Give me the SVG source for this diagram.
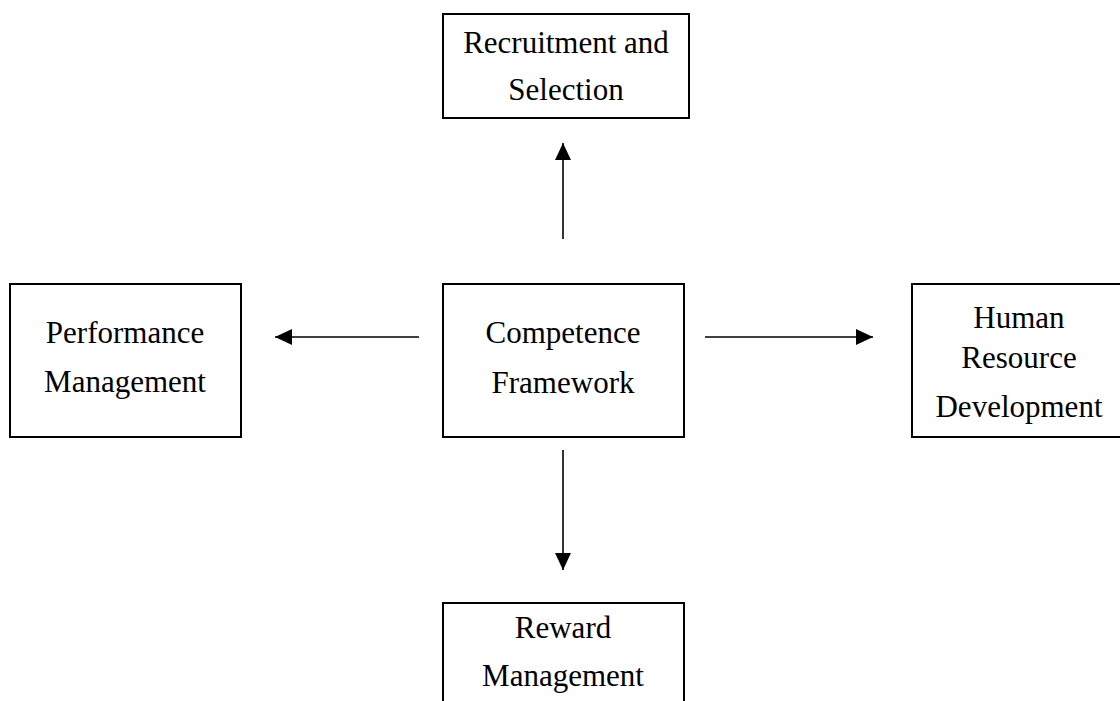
<svg xmlns="http://www.w3.org/2000/svg" width="1120" height="701" viewBox="0 0 1120 701">
<style>
.box{fill:#fff;stroke:#000;stroke-width:2}
.lbl{font-family:"Liberation Serif","Times New Roman",serif;font-size:31px;fill:#000;text-anchor:middle}
.con{stroke:#000;stroke-width:1.6;fill:none}
</style>
<defs>
<marker id="ah" markerUnits="userSpaceOnUse" markerWidth="18" markerHeight="16" refX="17" refY="8" orient="auto" viewBox="0 0 18 16">
<path d="M0,0 L17,8 L0,16 Z" fill="#000"/>
</marker>
</defs>
<rect width="1120" height="701" fill="#fff"/>
<g id="recruitment">
<rect class="box" x="443" y="14" width="246" height="104"/>
<text class="lbl" x="566" y="53">Recruitment and</text>
<text class="lbl" x="566" y="100">Selection</text>
</g>
<g id="performance">
<rect class="box" x="10" y="284" width="231" height="153"/>
<text class="lbl" x="125" y="343">Performance</text>
<text class="lbl" x="125" y="392">Management</text>
</g>
<g id="competence">
<rect class="box" x="443" y="284" width="241" height="153"/>
<text class="lbl" x="563" y="343">Competence</text>
<text class="lbl" x="563" y="393">Framework</text>
</g>
<g id="hrd">
<rect class="box" x="912" y="284" width="214" height="153"/>
<text class="lbl" x="1019" y="328">Human</text>
<text class="lbl" x="1019" y="368">Resource</text>
<text class="lbl" x="1019" y="417">Development</text>
</g>
<g id="reward">
<rect class="box" x="443" y="603" width="241" height="110"/>
<text class="lbl" x="563" y="638">Reward</text>
<text class="lbl" x="563" y="686">Management</text>
</g>
<g id="connectors">
<line class="con" x1="563" y1="239" x2="563" y2="143" marker-end="url(#ah)"/>
<line class="con" x1="419" y1="337" x2="275" y2="337" marker-end="url(#ah)"/>
<line class="con" x1="705" y1="337" x2="873" y2="337" marker-end="url(#ah)"/>
<line class="con" x1="563" y1="450" x2="563" y2="570" marker-end="url(#ah)"/>
</g>
</svg>
